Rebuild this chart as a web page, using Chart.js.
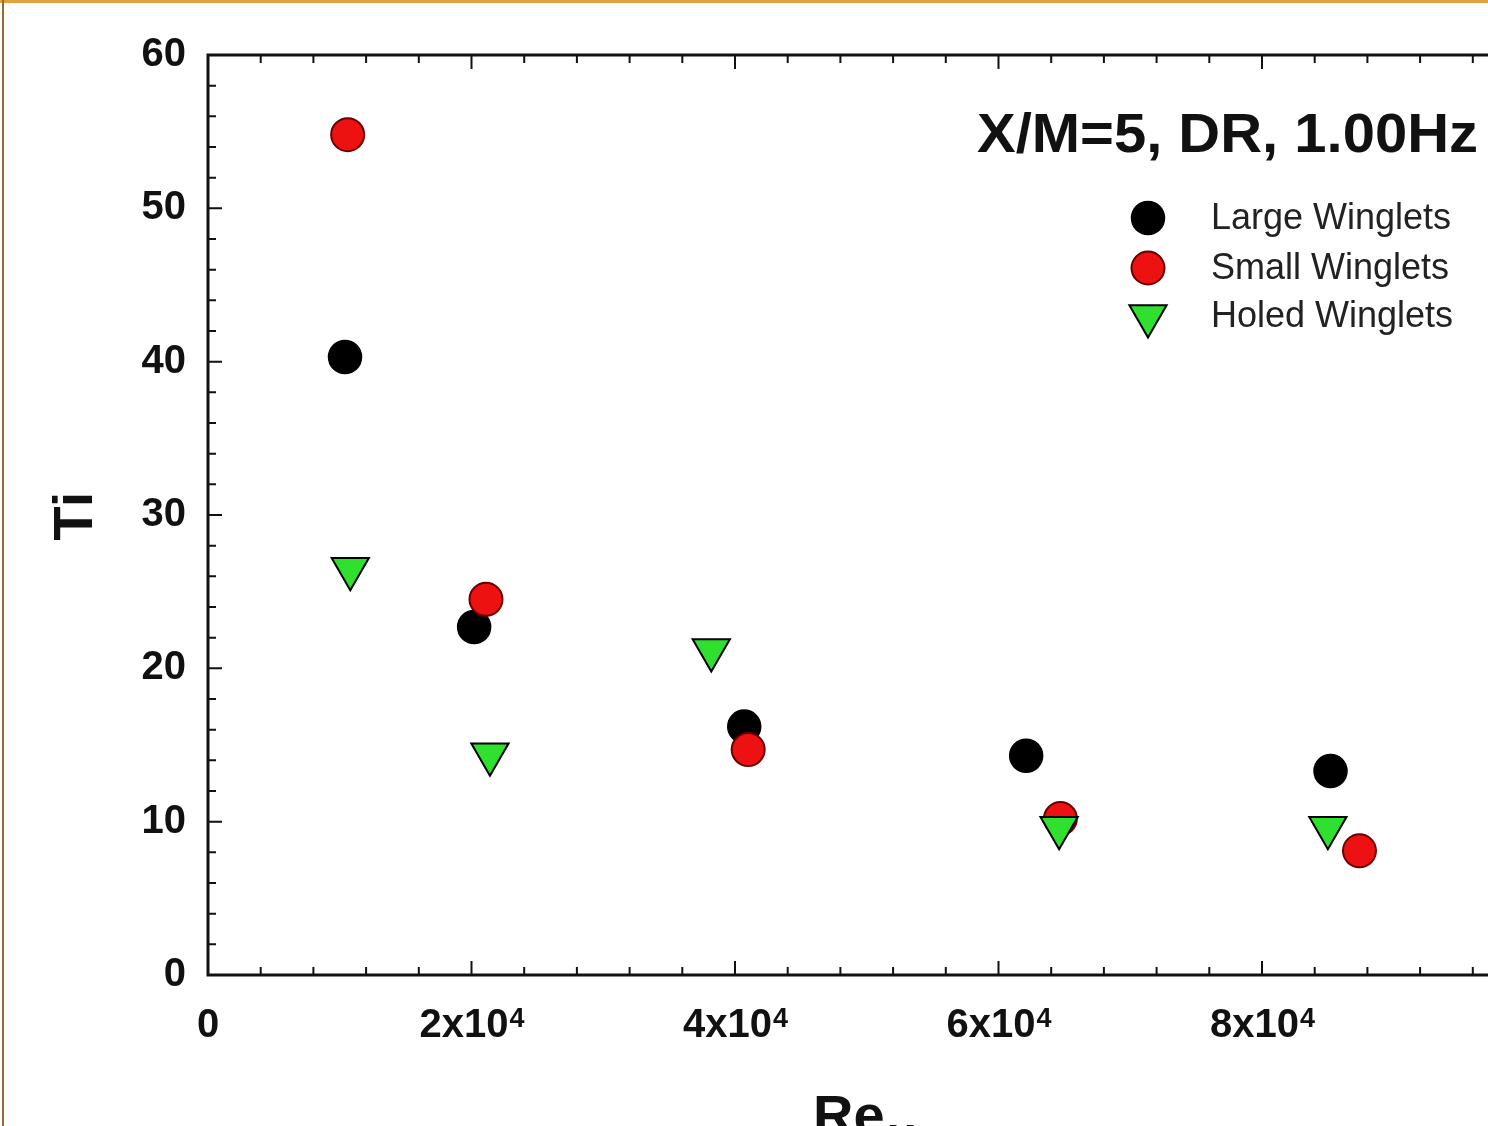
<!DOCTYPE html>
<html>
<head>
<meta charset="utf-8">
<title>Ti vs Re</title>
<script src="https://cdn.jsdelivr.net/npm/chart.js@4.4.1/dist/chart.umd.min.js"></script>
<style>
  html, body { margin: 0; padding: 0; overflow: hidden; background: #fff; }
  #wrap { position: absolute; left: 0; top: 0; width: 1560px; height: 1200px; }
</style>
</head>
<body>
<div id="wrap"><canvas id="ti_chart" width="1560" height="1200"></canvas></div>
<script>
// values
const reLarge = [10400, 20200, 40700, 62100, 85200];
const tiLarge = [40.3, 22.7, 16.2, 14.3, 13.3];
const reSmall = [10600, 21100, 41000, 64700, 87400];
const tiSmall = [54.8, 24.5, 14.7, 10.2, 8.1];
const reHoled = [10800, 21400, 38200, 64600, 85000];
const tiHoled = [26.5, 14.4, 21.2, 9.6, 9.6];

const seriesNames = ["Large Winglets", "Small Winglets", "Holed Winglets"];
const plotTitle = "X/M=5, DR, 1.00Hz";
const xTickValues = [0, 20000, 40000, 60000, 80000];
const xTickLabels = [["0", ""], ["2x10", "4"], ["4x10", "4"], ["6x10", "4"], ["8x10", "4"]];

const FONT = '"Liberation Sans", Arial, sans-serif';

function toPoints(xs, ys) {
  return xs.map((x, i) => ({ x: x, y: ys[i] }));
}

function marker(ctx, ds, x, y) {
  ctx.save();
  ctx.fillStyle = ds.pointBackgroundColor;
  ctx.strokeStyle = ds.pointBorderColor;
  ctx.lineWidth = ds.pointBorderWidth;
  Chart.helpers.drawPoint(ctx, {
    pointStyle: ds.pointStyle,
    rotation: ds.pointRotation || 0,
    radius: ds.pointRadius,
    borderWidth: ds.pointBorderWidth,
  }, x, y);
  ctx.restore();
}

const framePlugin = {
  id: "frameAndTicks",
  beforeDraw: (chart) => {
    const { ctx } = chart;
    ctx.save();
    ctx.fillStyle = "#fff";
    ctx.fillRect(0, 0, chart.width, chart.height);
    ctx.restore();
  },
  beforeDatasetsDraw: (chart) => {
    const { ctx, chartArea: a } = chart;
    const xs = chart.scales.x;
    const ys = chart.scales.y;
    ctx.save();
    ctx.strokeStyle = "#111";
    ctx.lineWidth = 2;
    // minor + major ticks pointing inward, bottom and top
    for (let v = 0; v <= 100000; v += 4000) {
      const px = xs.getPixelForValue(v);
      const len = v % 20000 === 0 ? 14 : 8;
      ctx.beginPath();
      ctx.moveTo(px, a.bottom);
      ctx.lineTo(px, a.bottom - len);
      ctx.moveTo(px, a.top);
      ctx.lineTo(px, a.top + len);
      ctx.stroke();
    }
    for (let v = 0; v <= 60; v += 2) {
      const py = ys.getPixelForValue(v);
      const len = v % 10 === 0 ? 14 : 8;
      ctx.beginPath();
      ctx.moveTo(a.left, py);
      ctx.lineTo(a.left + len, py);
      ctx.moveTo(a.right, py);
      ctx.lineTo(a.right - len, py);
      ctx.stroke();
    }
    ctx.lineWidth = 3;
    ctx.strokeRect(a.left, a.top, a.right - a.left, a.bottom - a.top);
    ctx.restore();
  },
  afterDraw: (chart) => {
    const { ctx } = chart;
    const xs = chart.scales.x;
    ctx.save();
    ctx.fillStyle = "#111";

    // x tick labels with superscript exponent
    xTickValues.forEach((v, i) => {
      const [base, exp] = xTickLabels[i];
      ctx.font = "bold 40px " + FONT;
      const wb = ctx.measureText(base).width;
      ctx.font = "bold 27px " + FONT;
      const we = exp ? ctx.measureText(exp).width : 0;
      const left = xs.getPixelForValue(v) - (wb + we) / 2;
      ctx.textAlign = "left";
      ctx.textBaseline = "alphabetic";
      ctx.font = "bold 40px " + FONT;
      ctx.fillText(base, left, 1037);
      if (exp) {
        ctx.font = "bold 27px " + FONT;
        ctx.fillText(exp, left + wb + 1, 1027);
      }
    });

    // axis titles
    ctx.font = "bold 56px " + FONT;
    ctx.textAlign = "left";
    ctx.fillText("Re", 813, 1134);
    const wr = ctx.measureText("Re").width;
    ctx.font = "bold 34px " + FONT;
    ctx.fillText("M", 813 + wr + 3, 1148);

    ctx.save();
    ctx.translate(92, 516);
    ctx.rotate(-Math.PI / 2);
    ctx.font = "bold 56px " + FONT;
    ctx.textAlign = "center";
    ctx.fillText("Ti", 0, 0);
    ctx.restore();

    // title inside plot, stretched to the width it has in the figure
    ctx.save();
    ctx.font = "bold 55px " + FONT;
    const tw = ctx.measureText(plotTitle).width;
    const sx = 501 / tw;
    ctx.translate(1478, 152);
    ctx.scale(sx, 1);
    ctx.textAlign = "right";
    ctx.fillText(plotTitle, 0, 0);
    ctx.restore();

    // legend
    const rows = [218, 268, 316];
    ctx.font = "36px " + FONT;
    ctx.textAlign = "left";
    ctx.textBaseline = "middle";
    chart.data.datasets.forEach((ds, i) => {
      marker(ctx, ds, 1148, rows[i]);
      ctx.fillStyle = "#222";
      ctx.fillText(seriesNames[i], 1211, rows[i] + 1);
    });

    // orange picture frame
    ctx.fillStyle = "#e2a03e";
    ctx.fillRect(0, 0, 1488, 3);
    ctx.fillStyle = "#9a6a2c";
    ctx.fillRect(2, 0, 2, 1126);
    ctx.restore();
  },
};

new Chart(document.getElementById("ti_chart"), {
  type: "scatter",
  data: {
    datasets: [
      {
        label: seriesNames[0],
        data: toPoints(reLarge, tiLarge),
        pointStyle: "circle",
        pointRadius: 16.5,
        pointBackgroundColor: "#000",
        pointBorderColor: "#000",
        pointBorderWidth: 1.5,
        order: 3,
      },
      {
        label: seriesNames[1],
        data: toPoints(reSmall, tiSmall),
        pointStyle: "circle",
        pointRadius: 16.5,
        pointBackgroundColor: "#ee1111",
        pointBorderColor: "#6a0000",
        pointBorderWidth: 2,
        order: 2,
      },
      {
        label: seriesNames[2],
        data: toPoints(reHoled, tiHoled),
        pointStyle: "triangle",
        pointRotation: 180,
        pointRadius: 21.5,
        pointBackgroundColor: "#2fe02f",
        pointBorderColor: "#000",
        pointBorderWidth: 2,
        order: 1,
      },
    ],
  },
  options: {
    responsive: false,
    animation: false,
    devicePixelRatio: 1,
    layout: { padding: { left: 0, top: 55, right: 34.5, bottom: 0 } },
    plugins: {
      legend: { display: false },
      tooltip: { enabled: false },
    },
    scales: {
      x: {
        type: "linear",
        min: 0,
        max: 100000,
        afterFit: (scale) => {
          scale.height = 225;
        },
        ticks: { display: false },
        grid: { display: false, drawTicks: false },
        border: { display: false },
      },
      y: {
        min: 0,
        max: 60,
        afterFit: (scale) => {
          scale.width = 208;
        },
        ticks: {
          stepSize: 10,
          padding: 22,
          color: "#111",
          font: { family: FONT, size: 40, weight: "bold" },
        },
        grid: { display: false, drawTicks: false },
        border: { display: false },
      },
    },
  },
  plugins: [framePlugin],
});
</script>
</body>
</html>
